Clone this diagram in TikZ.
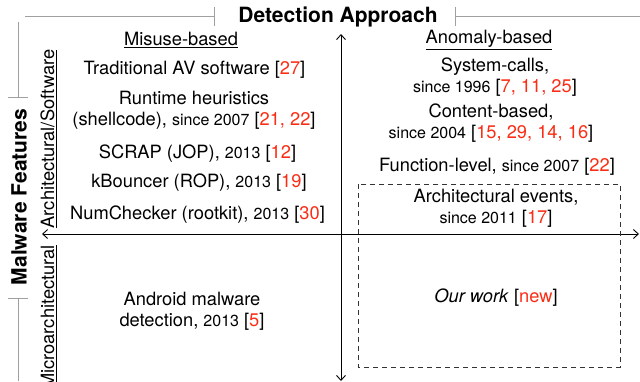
\documentclass[tikz,border=0pt]{standalone}
\usepackage{fontspec}
\setmainfont{TeX Gyre Heros}
\usetikzlibrary{arrows.meta}
\definecolor{refred}{RGB}{250,45,20}
\definecolor{bracketgray}{RGB}{160,160,160}
\newcommand\rf[1]{[{\color{refred}#1}]}
\newcommand\sm[1]{{\fontsize{16}{18}\selectfont #1}}
\tikzset{
  txt/.style={font=\fontsize{18.3}{21}\selectfont, align=center, inner sep=0pt},
  hdr/.style={font=\bfseries\fontsize{21}{24}\selectfont, inner sep=0pt},
  bracket/.style={draw=bracketgray, line width=0.9pt},
  axis/.style={draw=black, line width=0.9pt, {Straight Barb[length=5pt,width=9pt]}-{Straight Barb[length=5pt,width=9pt]}},
  dbox/.style={draw=black!80, line width=0.8pt, dash pattern=on 5pt off 4pt}
}
\begin{document}
\begin{tikzpicture}[x=1pt,y=-1pt]
\useasboundingbox (0,0) rectangle (640,381);
% top bracket
\node[hdr] (dtitle) at (338,17) {Detection Approach};
\coordinate (tl) at (25,16);
\coordinate (tlk) at (214,16);
\coordinate (trk) at (455,16);
\coordinate (tr) at (640,16);
\draw[bracket] (tl) -- (tlk);
\draw[bracket] (214,7) -- (214,26);
\draw[bracket] (trk) -- (tr);
\draw[bracket] (455,7) -- (455,26);
% left bracket
\node[hdr, rotate=90] (mtitle) at (19,197) {Malware Features};
\coordinate (lt) at (18,22);
\coordinate (lb) at (18,381);
\draw[bracket] (lt) -- (18,97);
\draw[bracket] (8,97) -- (28,97);
\draw[bracket] (18,298) -- (lb);
\draw[bracket] (8,298) -- (28,298);
% axes
\coordinate (vtop) at (341,34);
\coordinate (vbot) at (341,381);
\coordinate (hleft) at (42,234);
\coordinate (hright) at (639,234);
\draw[axis] (vtop) -- (vbot);
\draw[axis] (hleft) -- (hright);
% dashed box
\draw[dbox] (358,184) rectangle (620,367);
% axis labels
\node[txt, rotate=90] (arch) at (48.5,139) {\underline{Architectural/Software}};
\node[txt, rotate=90] (micro) at (48.5,317) {\underline{Microarchitectural}};
\node[txt] (misuse) at (181,40) {\underline{Misuse-based}};
\node[txt] (anom) at (489,40) {\underline{Anomaly-based}};
% left column
\node[txt] (av) at (194.5,70) {Traditional AV software \rf{27}};
\node[txt] (rt) at (194,110) {Runtime heuristics\\(shellcode), \sm{since 2007} \rf{21, 22}};
\node[txt] (scrap) at (197.5,154) {SCRAP (JOP), \sm{2013} \rf{12}};
\node[txt] (kb) at (199,183) {kBouncer (ROP), \sm{2013} \rf{19}};
\node[txt] (num) at (197.5,215) {NumChecker (rootkit), \sm{2013} \rf{30}};
\node[txt] (andr) at (192,311) {Android malware\\detection, \sm{2013} \rf{5}};
% right column
\node[txt] (sys) at (495,77) {System-calls,\\\sm{since 1996} \rf{7, 11, 25}};
\node[txt] (cont) at (491,123) {Content-based,\\\sm{since 2004} \rf{15, 29, 14, 16}};
\node[txt] (func) at (497,167) {Function-level, \sm{since 2007} \rf{22}};
\node[txt] (arev) at (496,208) {Architectural events,\\\sm{since 2011} \rf{17}};
\node[txt] (ours) at (496,298) {\textit{Our work} \rf{new}};
\end{tikzpicture}
\end{document}
